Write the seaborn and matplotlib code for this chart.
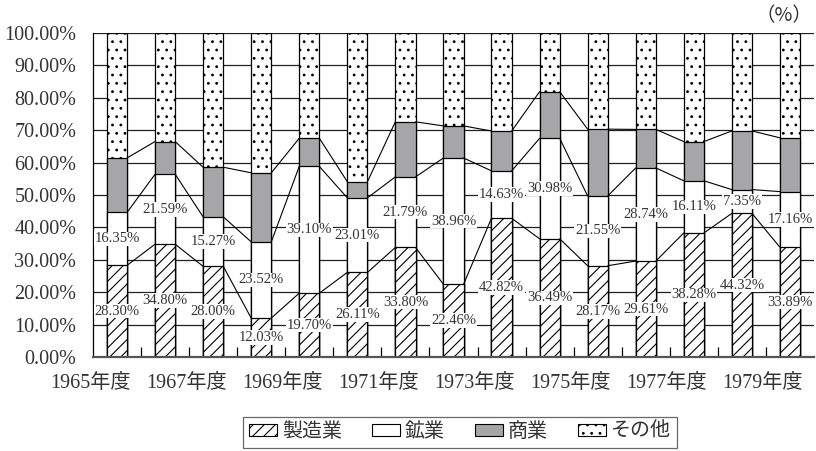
import matplotlib
matplotlib.use("Agg")
import numpy as np
import pandas as pd
import seaborn as sns
import matplotlib.pyplot as plt
import matplotlib.transforms as mtrans
from matplotlib.patches import Patch

years = ["1965年度", "1966年度", "1967年度", "1968年度", "1969年度", "1970年度",
         "1971年度", "1972年度", "1973年度", "1974年度", "1975年度", "1976年度",
         "1977年度", "1978年度", "1979年度"]
manufacturing = [28.30, 34.80, 28.00, 12.03, 19.70, 26.11, 33.80, 22.46,
                 42.82, 36.49, 28.17, 29.61, 38.28, 44.32, 33.89]
mining = [16.35, 21.59, 15.27, 23.52, 39.10, 23.01, 21.79, 38.96,
          14.63, 30.98, 21.55, 28.74, 16.11, 7.35, 17.16]
commerce = [16.8, 10.1, 15.3, 21.3, 8.7, 5.0, 17.0, 9.9,
            12.3, 14.4, 20.6, 11.9, 12.1, 18.1, 16.6]
other = [38.55, 33.51, 41.43, 43.15, 32.5, 45.88, 27.41, 28.68,
         30.25, 18.13, 29.68, 29.75, 33.51, 30.23, 32.35]
tick_years = ["1965年度", "1967年度", "1969年度", "1971年度",
              "1973年度", "1975年度", "1977年度", "1979年度"]
series_names = ["製造業", "鉱業", "商業", "その他"]

sns.set_theme(style="white")
plt.rcParams["font.family"] = ["Liberation Serif", "Noto Sans CJK JP"]
plt.rcParams["hatch.linewidth"] = 0.8
plt.rcParams["hatch.color"] = "black"
TXT = "#333333"

df = pd.DataFrame({"year": years, "m": manufacturing, "n": mining,
                   "c": commerce, "o": other})
df["top_m"] = df["m"]
df["top_n"] = df["m"] + df["n"]
df["top_c"] = df["top_n"] + df["c"]
df["top_o"] = df["top_c"] + df["o"]

fig = plt.figure(figsize=(8.16, 4.51), dpi=100)
ax = fig.add_axes([93 / 816, 94 / 451, 721 / 816, 324 / 451])

W = 0.42
layers = [("top_o", "white", ".."), ("top_c", "#a6a6a9", None),
          ("top_n", "white", None), ("top_m", "white", "///")]
for col, color, hatch in layers:
    kw = dict(hatch=hatch) if hatch else {}
    sns.barplot(data=df, x="year", y=col, color=color, saturation=1,
                edgecolor="black", linewidth=0.9, width=W, ax=ax, zorder=2,
                **kw)

# series lines between bars
xs = np.arange(len(years))
for col in ["top_m", "top_n", "top_c"]:
    v = df[col].values
    for i in range(len(v) - 1):
        ax.plot([xs[i] + W / 2, xs[i + 1] - W / 2], [v[i], v[i + 1]],
                color="black", lw=0.8, zorder=3)

# data labels
for i in range(len(years)):
    m = manufacturing[i]
    n = mining[i]
    for y, val in [(m / 2, m), (m + n / 2, n)]:
        ax.text(xs[i], y, f"{val:.2f}%", ha="center", va="center",
                fontsize=10.5, color=TXT, zorder=5,
                bbox=dict(boxstyle="square,pad=0.05", fc="white", ec="none"))

ax.set_ylim(0, 100)
ax.set_xlim(-0.5, len(years) - 0.5)
ax.set_yticks(np.arange(0, 101, 10))
ax.set_yticklabels([f"{v:.2f}%" for v in np.arange(0, 101, 10)],
                   fontsize=14.5, color=TXT)
ax.yaxis.grid(True, color="#202020", lw=0.9)
ax.xaxis.grid(False)
ax.set_axisbelow(True)

ax.set_xticks([years.index(t) for t in tick_years])
ax.set_xticklabels(tick_years, fontsize=14.5, color=TXT)
ax.set_xticks(np.arange(0.5, len(years) - 0.5, 1), minor=True)
ax.tick_params(axis="x", which="major", length=0, pad=12)
ax.tick_params(axis="x", which="minor", direction="in", length=7,
               width=0.9, color="black", bottom=True)
ax.tick_params(axis="y", length=0, pad=12)
offset = mtrans.ScaledTranslation(-27 / 100, 0, fig.dpi_scale_trans)
for lab in ax.get_xticklabels():
    lab.set_transform(lab.get_transform() + offset)
ax.set_xlabel("")
ax.set_ylabel("")

for s in ["top", "right"]:
    ax.spines[s].set_visible(False)
ax.spines["left"].set_color("black")
ax.spines["left"].set_linewidth(0.9)
ax.spines["bottom"].set_color("#555555")
ax.spines["bottom"].set_linewidth(1.6)

fig.text(812 / 816, 1 - 16 / 451, "（%）", ha="right", va="center",
         fontsize=14, color=TXT, family=["Noto Sans CJK JP"])

handles = [Patch(facecolor="white", edgecolor="black", hatch="///", lw=0.8),
           Patch(facecolor="white", edgecolor="black", lw=0.8),
           Patch(facecolor="#a6a6a9", edgecolor="black", lw=0.8),
           Patch(facecolor="white", edgecolor="black", hatch="..", lw=0.8)]
leg = fig.legend(handles, series_names, loc="lower center",
                 bbox_to_anchor=(460 / 816, 3 / 451), ncol=4, frameon=True,
                 fancybox=False, edgecolor="#444444", fontsize=14.4,
                 handlelength=1.4, handleheight=0.6, handletextpad=0.25,
                 columnspacing=1.5, borderpad=0.3, borderaxespad=0)
leg.get_frame().set_linewidth(0.9)
for t in leg.get_texts():
    t.set_color(TXT)

fig.savefig("out.png", dpi=100)
